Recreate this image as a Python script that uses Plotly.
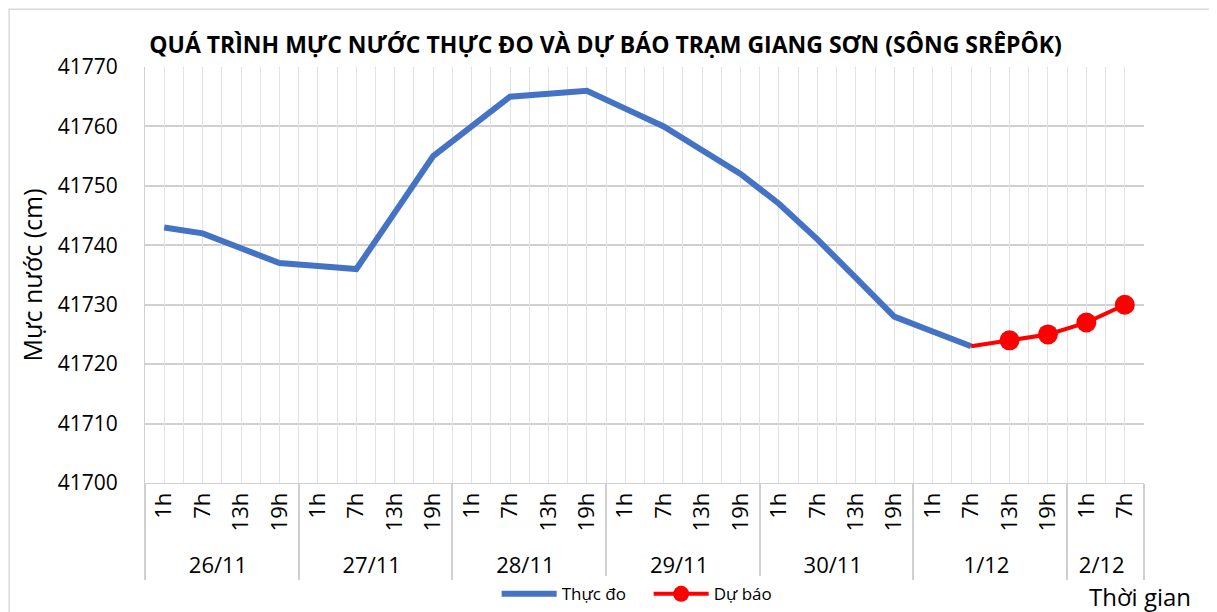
import plotly.graph_objects as go

dates = ["26/11", "27/11", "28/11", "29/11", "30/11", "1/12", "2/12"]
hours_per_day = [["1h", "7h", "13h", "19h"]] * 6 + [["1h", "7h"]]

date_label = {d: f"<span style='font-size:22px'>{d}</span>" for d in dates}
cat_date = [date_label[d] for d, hs in zip(dates, hours_per_day) for _ in hs]
cat_hour = [h for hs in hours_per_day for h in hs]

observed = [41743, 41742, 41739.5, 41737,
            41736.5, 41736, 41745.5, 41755,
            41760, 41765, 41765.5, 41766,
            41763, 41760, 41756, 41752,
            41747, 41741, 41734.5, 41728,
            41725.5, 41723]
forecast = [41723, 41724, 41725, 41727, 41730]
fc_start = len(observed) - 1

y_ticks = [41700, 41710, 41720, 41730, 41740, 41750, 41760, 41770]

FONT = "Open Sans"
n = len(cat_hour)

fig = go.Figure()
fig.add_trace(go.Scatter(
    x=[cat_date[:len(observed)], cat_hour[:len(observed)]], y=observed,
    mode="lines", name="Thực đo",
    line=dict(color="#4472C4", width=6),
))
fig.add_trace(go.Scatter(
    x=[cat_date[fc_start:], cat_hour[fc_start:]], y=forecast,
    mode="lines+markers", name="Dự báo",
    line=dict(color="#FF0000", width=4),
    marker=dict(color="#FF0000", opacity=1, line=dict(width=0),
                size=[0] + [20] * (len(forecast) - 1)),
))
# dummy trace for half-category grid axis
fig.add_trace(go.Scatter(x=[0, n - 1], y=[y_ticks[0], y_ticks[0]], xaxis="x2",
                         mode="markers", marker=dict(opacity=0), showlegend=False,
                         hoverinfo="skip"))

fig.update_layout(
    width=1217, height=612,
    paper_bgcolor="white", plot_bgcolor="white",
    margin=dict(l=137, r=81, t=59, b=137),
    title=dict(text="<b>QUÁ TRÌNH MỰC NƯỚC THỰC ĐO VÀ DỰ BÁO TRẠM GIANG SƠN (SÔNG SRÊPÔK)</b>",
               x=0.491, xanchor="center", y=0.94, yanchor="middle",
               font=dict(family=FONT, size=23, color="#000")),
    font=dict(family=FONT, color="#000"),
    xaxis=dict(type="multicategory", showgrid=False, tickangle=-90, automargin=False,
               tickfont=dict(size=22, color="#000"),
               showdividers=True, dividercolor="#d0d0d0", dividerwidth=2,
               showline=True, linecolor="#d0d0d0", linewidth=1,
               ticks="", range=[-0.5, n - 0.5]),
    xaxis2=dict(overlaying="x", anchor="y", range=[-0.5, n - 0.5], automargin=False,
                tick0=-0.5, dtick=0.5, showgrid=True, gridcolor="#e2e2e2",
                gridwidth=1, showticklabels=False, ticks="", zeroline=False),
    yaxis=dict(range=[41700, 41770], tickvals=y_ticks, tickformat="d", showgrid=True,
               automargin=False, ticklabelstandoff=22,
               gridcolor="#d0d0d0", gridwidth=1.5, zeroline=False,
               tickfont=dict(size=21, color="#000"), ticks="",
               title=dict(text="Mực nước (cm)", font=dict(size=25, color="#000"), standoff=8),
               showline=True, linecolor="#d0d0d0"),
    legend=dict(orientation="h", x=0.352, xanchor="left",
                yref="container", y=0.042, yanchor="middle",
                font=dict(size=17, family=FONT), itemwidth=55,
                entrywidth=82, entrywidthmode="pixels"),
    showlegend=True,
)

fig.add_annotation(text="Thời gian", xref="paper", yref="paper", x=1.049, y=-0.272,
                   xanchor="right", yanchor="middle", showarrow=False,
                   font=dict(size=24, family=FONT, color="#000"))
fig.add_shape(type="rect", xref="paper", yref="paper", x0=-0.136, x1=1.067, y0=-0.35, y1=1.139,
              line=dict(color="#d9d9d9", width=1.5), fillcolor="rgba(0,0,0,0)", layer="below")

fig.write_html("out.html")
